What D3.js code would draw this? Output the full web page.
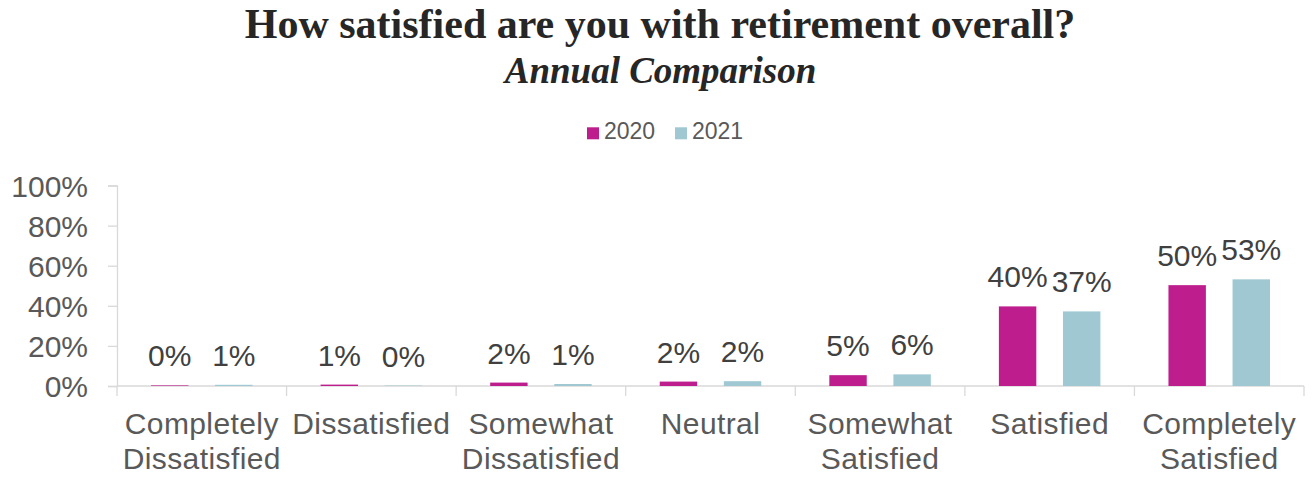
<!DOCTYPE html>
<html>
<head>
<meta charset="utf-8">
<script src="https://cdn.jsdelivr.net/npm/d3@7/dist/d3.min.js"></script>
<style>
  html, body { margin: 0; padding: 0; background: #fff; }
  svg { display: block; }
</style>
</head>
<body>
<svg id="chart" width="1313" height="477"></svg>
<script>
// Survey answers, in axis order
const categories = [
  ["Completely", "Dissatisfied"],
  ["Dissatisfied"],
  ["Somewhat", "Dissatisfied"],
  ["Neutral"],
  ["Somewhat", "Satisfied"],
  ["Satisfied"],
  ["Completely", "Satisfied"]
];
const seriesNames = ["2020", "2021"];
// Share of respondents (percent) per answer
const values2020 = [0.3, 0.7, 1.7, 2.2, 5.4, 39.7, 50.3];
const values2021 = [0.6, 0.2, 1.0, 2.4, 5.8, 37.2, 53.2];
const yTicks = [0, 20, 40, 60, 80, 100];
const colors = ["#BE1E8D", "#9FC8D3"];

const svg = d3.select("#chart");
const x0 = 117, x1 = 1304, yTop = 185.5, yBase = 386;

const catKeys = categories.map((c, i) => i);
const x = d3.scaleBand().domain(catKeys).range([x0, x1]).paddingInner(0).paddingOuter(0);
const xs = d3.scaleBand().domain(seriesNames).range([0, x.bandwidth()])
  .paddingInner(0.416).paddingOuter(0.531);
const y = d3.scaleLinear().domain([0, 100]).range([yBase, yTop]);

const serif = "'Liberation Serif', 'Times New Roman', serif";
const font = "'Liberation Sans', Arial, sans-serif";

// Title
svg.append("text")
  .attr("x", 660).attr("y", 38)
  .attr("text-anchor", "middle")
  .style("font-family", serif)
  .style("font-weight", "bold")
  .style("font-size", "42px")
  .style("fill", "#262626")
  .text("How satisfied are you with retirement overall?");
svg.append("text")
  .attr("x", 660.5).attr("y", 82.5)
  .attr("text-anchor", "middle")
  .style("font-family", serif)
  .style("font-weight", "bold")
  .style("font-style", "italic")
  .style("font-size", "37px")
  .style("fill", "#262626")
  .text("Annual Comparison");

// Legend
const legendPos = [587, 675];
const legend = svg.append("g");
seriesNames.forEach((s, i) => {
  legend.append("rect")
    .attr("x", legendPos[i]).attr("y", 127.3)
    .attr("width", 12).attr("height", 12)
    .attr("fill", colors[i]);
  legend.append("text")
    .attr("x", legendPos[i] + 17).attr("y", 139.3)
    .style("font-family", font)
    .style("font-size", "23px")
    .style("fill", "#595959")
    .text(s);
});

// Y axis
const yAxis = d3.axisLeft(y).tickValues(yTicks).tickSize(9).tickPadding(20)
  .tickFormat(d => d + "%");
const gy = svg.append("g").attr("transform", `translate(${x0},0)`).call(yAxis);
gy.select(".domain").attr("stroke", "#D9D9D9").attr("stroke-width", 1.3);
gy.selectAll(".tick line").attr("stroke", "#D9D9D9").attr("stroke-width", 1.3);
gy.selectAll(".tick text")
  .style("font-family", font).style("font-size", "30px")
  .attr("fill", "#595959").attr("dy", "0.35em");

// X axis line with category separators
const gx = svg.append("g");
gx.append("line")
  .attr("x1", x0).attr("x2", x1).attr("y1", yBase).attr("y2", yBase)
  .attr("stroke", "#D9D9D9").attr("stroke-width", 1.3);
const seps = catKeys.map(k => x(k)).concat([x1]);
gx.selectAll("line.sep").data(seps).enter().append("line")
  .attr("class", "sep")
  .attr("x1", d => d).attr("x2", d => d)
  .attr("y1", yBase).attr("y2", yBase + 10)
  .attr("stroke", "#D9D9D9").attr("stroke-width", 1.3);

// Category labels
const catLabels = svg.append("g");
categories.forEach((lines, i) => {
  const t = catLabels.append("text")
    .attr("text-anchor", "middle")
    .style("font-family", font).style("font-size", "30px")
    .style("letter-spacing", "0.4px")
    .style("fill", "#595959");
  lines.forEach((ln, j) => {
    t.append("tspan")
      .attr("x", x(i) + x.bandwidth() / 2)
      .attr("y", 433.5 + j * 35)
      .text(ln);
  });
});

// Bars and value labels
const series = [values2020, values2021];
const fmt = d3.format(".0f");
series.forEach((vals, si) => {
  const g = svg.append("g");
  g.selectAll("rect").data(vals).enter().append("rect")
    .attr("x", (d, i) => x(i) + xs(seriesNames[si]))
    .attr("width", xs.bandwidth())
    .attr("y", d => y(d))
    .attr("height", d => yBase - y(d))
    .attr("fill", colors[si]);
  g.selectAll("text").data(vals).enter().append("text")
    .attr("x", (d, i) => x(i) + xs(seriesNames[si]) + xs.bandwidth() / 2)
    .attr("y", d => y(d) - 19)
    .attr("text-anchor", "middle")
    .style("font-family", font).style("font-size", "30px")
    .style("fill", "#404040")
    .text(d => fmt(d) + "%");
});
</script>
</body>
</html>
